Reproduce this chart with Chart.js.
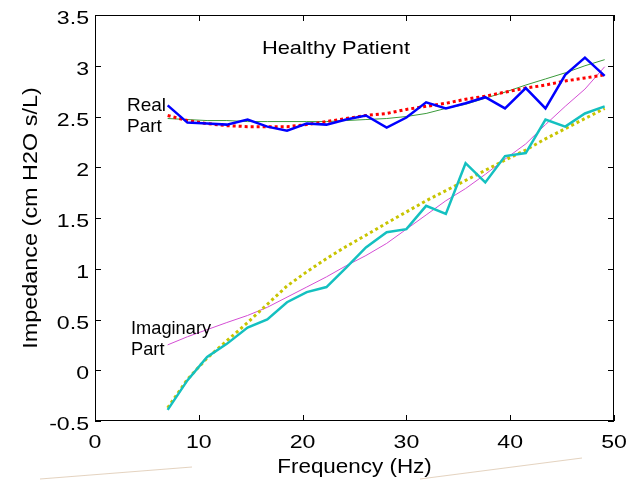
<!DOCTYPE html>
<html>
<head>
<meta charset="utf-8">
<script src="https://cdn.jsdelivr.net/npm/chart.js@4.4.1/dist/chart.umd.min.js"></script>
<style>
  html, body { margin: 0; padding: 0; background: #fff; }
  #wrap { width: 638px; height: 481px; }
</style>
</head>
<body>
<div id="wrap"><canvas id="c" width="638" height="481"></canvas></div>
<script>
// === DATA ===
const freq = [7.0, 8.9, 10.8, 12.7, 14.7, 16.6, 18.5, 20.4, 22.3, 24.2, 26.1, 28.1,
  30.0, 31.9, 33.8, 35.7, 37.6, 39.5, 41.5, 43.4, 45.3, 47.2, 49.1];

// measured real part (blue)
const realMeas = [2.61, 2.44, 2.43, 2.42, 2.47, 2.40, 2.36, 2.43, 2.42, 2.47, 2.51, 2.39,
  2.49, 2.64, 2.58, 2.63, 2.69, 2.58, 2.78, 2.58, 2.91, 3.08, 2.90];
// model fit real part (red dotted)
const realFitA = [2.51, 2.46, 2.43, 2.41, 2.40, 2.40, 2.40, 2.42, 2.45, 2.48, 2.51, 2.53,
  2.57, 2.60, 2.63, 2.67, 2.70, 2.74, 2.78, 2.81, 2.85, 2.88, 2.91];
// model fit real part (thin green)
const realFitB = [2.48, 2.47, 2.46, 2.46, 2.45, 2.45, 2.45, 2.45, 2.45, 2.46, 2.47, 2.48,
  2.50, 2.53, 2.58, 2.62, 2.68, 2.74, 2.81, 2.87, 2.93, 3.00, 3.06];

// measured imaginary part (cyan)
const imagMeas = [-0.39, -0.10, 0.13, 0.26, 0.42, 0.50, 0.67, 0.77, 0.82, 1.01, 1.21, 1.36,
  1.39, 1.62, 1.54, 2.04, 1.85, 2.11, 2.14, 2.47, 2.40, 2.53, 2.60];
// model fit imaginary part (yellow dotted)
const imagFitA = [-0.37, -0.09, 0.12, 0.29, 0.47, 0.65, 0.83, 0.97, 1.10, 1.22, 1.33, 1.45,
  1.56, 1.67, 1.77, 1.87, 1.97, 2.07, 2.17, 2.28, 2.38, 2.48, 2.58];
// model fit imaginary part (thin magenta)
const imagFitB = [0.25, 0.33, 0.40, 0.47, 0.54, 0.62, 0.72, 0.82, 0.92, 1.03, 1.13, 1.25,
  1.39, 1.53, 1.67, 1.79, 1.93, 2.08, 2.23, 2.42, 2.60, 2.77, 2.99];

const xTicks = [0, 10, 20, 30, 40, 50];
const yTicks = [-0.5, 0, 0.5, 1, 1.5, 2, 2.5, 3, 3.5];
const xTitle = "Frequency (Hz)";
const yTitle = "Impedance (cm H2O s/L)";
const plotTitle = "Healthy Patient";

const FONT = "'Liberation Sans', Arial, sans-serif";

function pts(ys) {
  return freq.map((f, i) => ({ x: f, y: ys[i] }));
}

// text with a horizontal stretch (the scanned figure is a bit wider than tall)
function texte(ctx, str, x, y, size, sx, align) {
  ctx.save();
  ctx.translate(x, y);
  ctx.scale(sx, 1);
  ctx.font = size + "px " + FONT;
  ctx.textAlign = align;
  ctx.textBaseline = "alphabetic";
  ctx.fillText(str, 0, 0);
  ctx.restore();
}

// === BOX, INNER TICKS, LABELS ===
const boxPlugin = {
  id: "box",
  afterDraw(chart) {
    const ctx = chart.ctx;
    const a = chart.chartArea;
    const sx = chart.scales.x, sy = chart.scales.y;
    ctx.save();

    // faint paper streaks at the bottom of the scan
    ctx.strokeStyle = "rgba(205,175,140,0.55)";
    ctx.lineWidth = 1.2;
    ctx.beginPath();
    ctx.moveTo(40, 479); ctx.lineTo(192, 467);
    ctx.moveTo(420, 479); ctx.lineTo(582, 458);
    ctx.stroke();

    ctx.strokeStyle = "#000";
    ctx.lineWidth = 1;
    ctx.strokeRect(a.left + 0.5, a.top + 0.5, a.right - a.left - 1, a.bottom - a.top - 1);
    ctx.beginPath();
    xTicks.forEach(v => {
      const px = Math.round(sx.getPixelForValue(v)) + 0.5;
      ctx.moveTo(px, a.bottom); ctx.lineTo(px, a.bottom - 6);
      ctx.moveTo(px, a.top); ctx.lineTo(px, a.top + 6);
    });
    yTicks.forEach(v => {
      const py = Math.round(sy.getPixelForValue(v)) + 0.5;
      ctx.moveTo(a.left, py); ctx.lineTo(a.left + 6, py);
      ctx.moveTo(a.right, py); ctx.lineTo(a.right - 6, py);
    });
    ctx.stroke();

    ctx.fillStyle = "#000";
    // tick labels
    xTicks.forEach(v => {
      texte(ctx, String(v), sx.getPixelForValue(v), a.bottom + 27, 18.5, 1.25, "center");
    });
    yTicks.forEach(v => {
      texte(ctx, String(v), a.left - 6, sy.getPixelForValue(v) + 9, 18.5, 1.25, "right");
    });
    // axis titles
    texte(ctx, xTitle, (a.left + a.right) / 2, 473, 19.5, 1.15, "center");
    ctx.save();
    ctx.translate(37, (a.top + a.bottom) / 2);
    ctx.rotate(-Math.PI / 2);
    texte(ctx, yTitle, 0, 0, 19.5, 1.2, "center");
    ctx.restore();

    // annotations
    texte(ctx, plotTitle, 336, 54, 19, 1.15, "center");
    texte(ctx, "Real", 127, 111, 19, 1.0, "left");
    texte(ctx, "Part", 127, 132, 19, 1.0, "left");
    texte(ctx, "Imaginary", 131, 334, 19, 0.96, "left");
    texte(ctx, "Part", 131, 355, 19, 0.96, "left");
    ctx.restore();
  }
};

new Chart(document.getElementById("c"), {
  type: "line",
  data: {
    datasets: [
      { label: "Real fit 2", data: pts(realFitB), borderColor: "#3a9a3a", borderWidth: 1, order: 6 },
      { label: "Imag fit 2", data: pts(imagFitB), borderColor: "#d44ed4", borderWidth: 1, order: 5 },
      { label: "Real fit", data: pts(realFitA), borderColor: "#ff0000", borderWidth: 3, borderDash: [3, 3], order: 4 },
      { label: "Imag fit", data: pts(imagFitA), borderColor: "#c8c400", borderWidth: 3, borderDash: [3, 3], order: 3 },
      { label: "Real", data: pts(realMeas), borderColor: "#0000ff", borderWidth: 2.5, order: 2 },
      { label: "Imaginary", data: pts(imagMeas), borderColor: "#14c0c0", borderWidth: 2.5, order: 1 }
    ]
  },
  options: {
    responsive: false,
    animation: false,
    layout: { padding: { top: 15, right: 24, left: 0, bottom: 0 } },
    elements: { point: { radius: 0 }, line: { tension: 0, borderCapStyle: "butt" } },
    plugins: { legend: { display: false }, tooltip: { enabled: false } },
    scales: {
      x: {
        type: "linear", min: 0, max: 50,
        afterBuildTicks: s => { s.ticks = xTicks.map(v => ({ value: v })); },
        afterFit: s => { s.height = 60; },
        grid: { display: false, drawTicks: false },
        border: { display: false },
        ticks: { display: false }
      },
      y: {
        type: "linear", min: -0.5, max: 3.5,
        afterBuildTicks: s => { s.ticks = yTicks.map(v => ({ value: v })); },
        afterFit: s => { s.width = 95; },
        grid: { display: false, drawTicks: false },
        border: { display: false },
        ticks: { display: false }
      }
    }
  },
  plugins: [boxPlugin]
});
</script>
</body>
</html>
